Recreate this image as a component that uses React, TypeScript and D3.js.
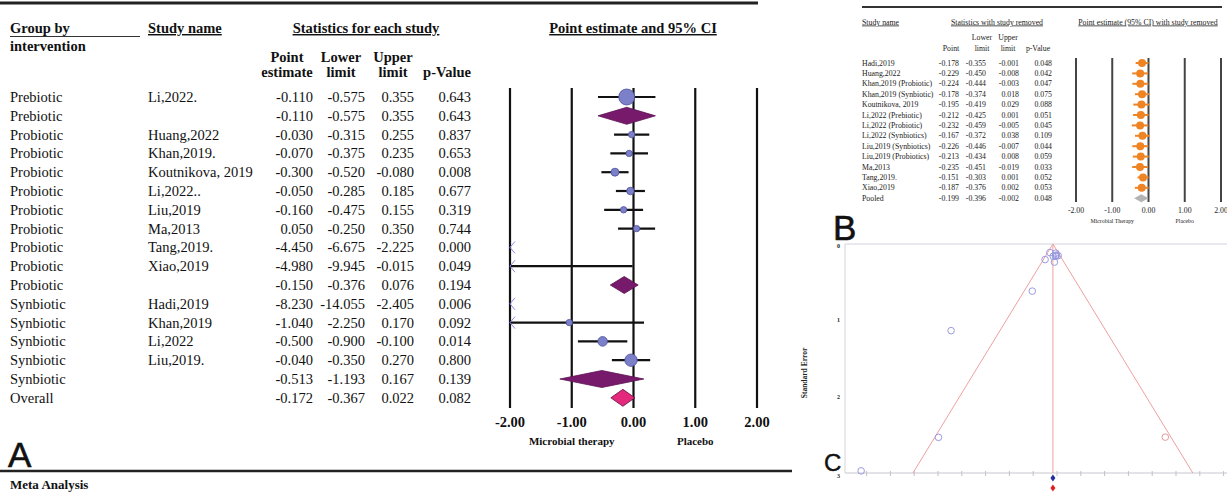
import React from 'react';
import * as d3 from 'd3';

// ---------- Panel A data ----------
const groupsA = ['Prebiotic','Prebiotic','Probiotic','Probiotic','Probiotic','Probiotic','Probiotic','Probiotic','Probiotic','Probiotic','Probiotic','Synbiotic','Synbiotic','Synbiotic','Synbiotic','Synbiotic','Overall'];
const studiesA = ['Li,2022.','','Huang,2022','Khan,2019.','Koutnikova, 2019','Li,2022..','Liu,2019','Ma,2013','Tang,2019.','Xiao,2019','','Hadi,2019','Khan,2019','Li,2022','Liu,2019.','',''];
const rowTypeA = ['study','subtotal','study','study','study','study','study','study','study','study','subtotal','study','study','study','study','subtotal','overall'];
const pointA = [-0.110,-0.110,-0.030,-0.070,-0.300,-0.050,-0.160,0.050,-4.450,-4.980,-0.150,-8.230,-1.040,-0.500,-0.040,-0.513,-0.172];
const lowerA = [-0.575,-0.575,-0.315,-0.375,-0.520,-0.285,-0.475,-0.250,-6.675,-9.945,-0.376,-14.055,-2.250,-0.900,-0.350,-1.193,-0.367];
const upperA = [0.355,0.355,0.255,0.235,-0.080,0.185,0.155,0.350,-2.225,-0.015,0.076,-2.405,0.170,-0.100,0.270,0.167,0.022];
const pValA = [0.643,0.643,0.837,0.653,0.008,0.677,0.319,0.744,0.000,0.049,0.194,0.006,0.092,0.014,0.800,0.139,0.082];
const ticksA = [-2, -1, 0, 1, 2];

// ---------- Panel B data ----------
const studiesB = ['Hadi,2019','Huang,2022','Khan,2019 (Probiotic)','Khan,2019 (Synbiotic)','Koutnikova, 2019','Li,2022 (Prebiotic)','Li,2022 (Probiotic)','Li,2022 (Synbiotics)','Liu,2019 (Synbiotics)','Liu,2019 (Probiotics)','Ma,2013','Tang,2019.','Xiao,2019','Pooled'];
const pointB = [-0.178,-0.229,-0.224,-0.178,-0.195,-0.212,-0.232,-0.167,-0.226,-0.213,-0.235,-0.151,-0.187,-0.199];
const lowerB = [-0.355,-0.450,-0.444,-0.374,-0.419,-0.425,-0.459,-0.372,-0.446,-0.434,-0.451,-0.303,-0.376,-0.396];
const upperB = [-0.001,-0.008,-0.003,0.018,0.029,0.001,-0.005,0.038,-0.007,0.008,-0.019,0.001,0.002,-0.002];
const pValB = [0.048,0.042,0.047,0.075,0.088,0.051,0.045,0.109,0.044,0.059,0.033,0.052,0.053,0.048];

// ---------- Panel C data ----------
const imputedEffects = [4.55];
const imputedSE = [2.53];
const funnelYTicks = [0, 1, 2, 3];
const funnelXTicks = [-8,-7,-6,-5,-4,-3,-2,-1,0,1,2,3,4,5,6,7];
const observedEstimate = -0.172;
const adjustedEstimate = -0.172;

const SERIF = '"Liberation Serif", "Times New Roman", serif';
const SANS = '"Liberation Sans", Arial, sans-serif';
const f3 = (v: number) => v.toFixed(3);

export default function App() {
  // Panel A scales
  const xA = d3.scaleLinear().domain([-2, 2]).range([510, 757]);
  const rowA = (i: number) => 102 + i * 18.8; // baseline
  const cyA = (i: number) => rowA(i) - 5;

  // relative weights within subgroup (inverse variance from CI)
  const seA = lowerA.map((l, i) => (upperA[i] - l) / (2 * 1.96));
  const pct: number[] = pointA.map(() => 0);
  const grpNames = Array.from(new Set(groupsA.filter((g, i) => rowTypeA[i] === 'study')));
  grpNames.forEach(g => {
    const idx = groupsA.map((gg, i) => (gg === g && rowTypeA[i] === 'study' ? i : -1)).filter(i => i >= 0);
    const tot = d3.sum(idx, i => 1 / (seA[i] * seA[i]));
    idx.forEach(i => { pct[i] = (100 * (1 / (seA[i] * seA[i]))) / tot; });
  });
  const rScale = d3.scaleSqrt().domain([0, 100]).range([0, 8]);

  // Panel B scales
  const xB = d3.scaleLinear().domain([-2, 2]).range([1076, 1221]);
  const cyB = (i: number) => 63 + i * 10.4;

  // Panel C scales
  const xC = d3.scaleLinear().domain([-9, 7]).range([842.8, 1223.6]);
  const yC = d3.scaleLinear().domain([0, 3]).range([244, 473]);
  const funnelPts = pointA.map((p, i) => ({ p, se: seA[i], t: rowTypeA[i] })).filter(d => d.t === 'study');

  const colX = { pe: 313, lo: 365, up: 414, pv: 471 };

  return (
    <svg width={1227} height={497} style={{ position: 'absolute', left: 0, top: 0, background: '#fff' }}>
      {/* ================= Panel A ================= */}
      <line x1={0} x2={758} y1={3} y2={3} stroke="#222" strokeWidth={3} />
      <g fontFamily={SERIF} fontSize={14.5} fill="#111">
        <text x={10} y={33} fontWeight="bold">Group by</text>
        <line x1={10} x2={140} y1={36.5} y2={36.5} stroke="#333" strokeWidth={1} />
        <text x={10} y={50.5} fontWeight="bold">intervention</text>
        <text x={148} y={33} fontWeight="bold" textDecoration="underline">Study name</text>
        <text x={366} y={33} fontWeight="bold" textAnchor="middle" textDecoration="underline">Statistics for each study</text>
        <text x={633} y={33} fontWeight="bold" textAnchor="middle" textDecoration="underline">Point estimate and 95% CI</text>
        <text x={287} y={61.5} fontWeight="bold" textAnchor="middle">Point</text>
        <text x={287} y={77} fontWeight="bold" textAnchor="middle">estimate</text>
        <text x={341} y={61.5} fontWeight="bold" textAnchor="middle">Lower</text>
        <text x={341} y={77} fontWeight="bold" textAnchor="middle">limit</text>
        <text x={393} y={61.5} fontWeight="bold" textAnchor="middle">Upper</text>
        <text x={393} y={77} fontWeight="bold" textAnchor="middle">limit</text>
        <text x={447} y={77} fontWeight="bold" textAnchor="middle">p-Value</text>
        {groupsA.map((g, i) => (
          <g key={'ra' + i}>
            <text x={10} y={rowA(i)}>{g}</text>
            <text x={148} y={rowA(i)}>{studiesA[i]}</text>
            <text x={colX.pe} y={rowA(i)} textAnchor="end">{f3(pointA[i])}</text>
            <text x={colX.lo} y={rowA(i)} textAnchor="end">{f3(lowerA[i])}</text>
            <text x={colX.up} y={rowA(i)} textAnchor="end">{f3(upperA[i])}</text>
            <text x={colX.pv} y={rowA(i)} textAnchor="end">{f3(pValA[i])}</text>
          </g>
        ))}
      </g>
      {/* forest A grid */}
      {ticksA.map(t => (
        <g key={'ta' + t}>
          <line x1={xA(t)} x2={xA(t)} y1={88} y2={408} stroke="#111" strokeWidth={2.2} />
          <text x={xA(t)} y={427} textAnchor="middle" fontFamily={SERIF} fontWeight="bold" fontSize={14.5} fill="#111">{t.toFixed(2)}</text>
        </g>
      ))}
      <text x={xA(-1)} y={445} textAnchor="middle" fontFamily={SERIF} fontWeight="bold" fontSize={11} fill="#111">Microbial therapy</text>
      <text x={xA(1)} y={445} textAnchor="middle" fontFamily={SERIF} fontWeight="bold" fontSize={11} fill="#111">Placebo</text>
      {/* forest A marks */}
      {pointA.map((p, i) => {
        const y = cyA(i);
        const type = rowTypeA[i];
        if (type === 'study') {
          const lo = Math.max(lowerA[i], -2);
          const hi = Math.min(upperA[i], 2);
          const inRange = p >= -2 && p <= 2;
          return (
            <g key={'ma' + i}>
              {hi > lo && <line x1={xA(lo)} x2={xA(hi)} y1={y} y2={y} stroke="#111" strokeWidth={2.2} />}
              {lowerA[i] < -2 && (
                <polyline points={`${xA(-2) + 5},${y - 6} ${xA(-2)},${y} ${xA(-2) + 5},${y + 6}`} fill="none" stroke="#8a8ae6" strokeWidth={1} />
              )}
              {inRange && <circle cx={xA(p)} cy={y} r={Math.max(3.2, rScale(pct[i]))} fill="#7c80c9" stroke="#4d519c" strokeWidth={0.8} />}
            </g>
          );
        }
        const h = 8.5;
        const fill = type === 'overall' ? '#e4287c' : '#781a6c';
        const stroke = type === 'overall' ? '#5a1040' : '#5a1052';
        return (
          <polygon key={'ma' + i}
            points={`${xA(lowerA[i])},${y} ${xA(p)},${y - h} ${xA(upperA[i])},${y} ${xA(p)},${y + h}`}
            fill={fill} stroke={stroke} strokeWidth={0.8} />
        );
      })}
      <text x={8} y={467} fontFamily={SANS} fontSize={35} fill="#111" stroke="#111" strokeWidth={0.6}>A</text>
      <line x1={0} x2={792} y1={471} y2={471} stroke="#222" strokeWidth={2.5} />
      <text x={10} y={489} fontFamily={SERIF} fontWeight="bold" fontSize={13} fill="#111">Meta Analysis</text>

      {/* ================= Panel B ================= */}
      <line x1={862} x2={1222} y1={7} y2={7} stroke="#333" strokeWidth={2} />
      <g fontFamily={SERIF} fontSize={7.8} fill="#222">
        <text x={862} y={24.5} textDecoration="underline">Study name</text>
        <text x={997} y={24.5} textAnchor="middle" textDecoration="underline">Statistics with study removed</text>
        <text x={1148} y={24.5} textAnchor="middle" textDecoration="underline">Point estimate (95% CI) with study removed</text>
        <text x={951} y={51} textAnchor="middle">Point</text>
        <text x={982} y={40} textAnchor="middle">Lower</text>
        <text x={982} y={51} textAnchor="middle">limit</text>
        <text x={1008} y={40} textAnchor="middle">Upper</text>
        <text x={1008} y={51} textAnchor="middle">limit</text>
        <text x={1038} y={51} textAnchor="middle">p-Value</text>
        {studiesB.map((s, i) => (
          <g key={'rb' + i}>
            <text x={862} y={cyB(i) + 2.6}>{s}</text>
            <text x={959} y={cyB(i) + 2.6} textAnchor="end">{f3(pointB[i])}</text>
            <text x={986} y={cyB(i) + 2.6} textAnchor="end">{f3(lowerB[i])}</text>
            <text x={1019} y={cyB(i) + 2.6} textAnchor="end">{f3(upperB[i])}</text>
            <text x={1052} y={cyB(i) + 2.6} textAnchor="end">{f3(pValB[i])}</text>
          </g>
        ))}
        {ticksA.map(t => (
          <text key={'tbl' + t} x={xB(t)} y={212.5} textAnchor="middle">{t.toFixed(2)}</text>
        ))}
        <text x={xB(-1)} y={223} textAnchor="middle" fontSize={5.8}>Microbial Therapy</text>
        <text x={xB(1)} y={223} textAnchor="middle" fontSize={5.8}>Placebo</text>
      </g>
      {ticksA.map(t => (
        <line key={'tb' + t} x1={xB(t)} x2={xB(t)} y1={58} y2={202} stroke="#444" strokeWidth={2} />
      ))}
      {pointB.map((p, i) => {
        const y = cyB(i);
        if (i === pointB.length - 1) {
          return (
            <polygon key={'mb' + i}
              points={`${xB(lowerB[i])},${y} ${xB(p)},${y - 4} ${xB(upperB[i])},${y} ${xB(p)},${y + 4}`}
              fill="#b4b4b4" />
          );
        }
        return (
          <g key={'mb' + i}>
            <line x1={xB(lowerB[i])} x2={xB(upperB[i])} y1={y} y2={y} stroke="#ee8424" strokeWidth={2} />
            <circle cx={xB(p)} cy={y} r={4} fill="#ee8424" />
          </g>
        );
      })}
      <text x={833} y={240} fontFamily={SANS} fontSize={35} fill="#111" stroke="#111" strokeWidth={0.6}>B</text>

      {/* ================= Panel C ================= */}
      <line x1={845} x2={1227} y1={244} y2={244} stroke="#d4d4dc" strokeWidth={1} />
      <line x1={845} x2={845} y1={244} y2={473} stroke="#d4d4dc" strokeWidth={1} />
      <line x1={845} x2={1227} y1={473} y2={473} stroke="#c8c8d0" strokeWidth={1} />
      {funnelXTicks.map(t => (
        <line key={'fx' + t} x1={xC(t)} x2={xC(t)} y1={471} y2={476} stroke="#c0c0c8" strokeWidth={1} />
      ))}
      {funnelYTicks.map(t => (
        <text key={'fy' + t} x={840} y={t === 0 ? yC(t) + 4 : t === 3 ? yC(t) + 5 : yC(t) + 2} textAnchor="end" fontFamily={SERIF} fontWeight="bold" fontSize={6} fill="#222">{t}</text>
      ))}
      <text transform="translate(807,373) rotate(-90)" textAnchor="middle" fontFamily={SERIF} fontWeight="bold" fontSize={7.5} fill="#222">Standard Error</text>
      {/* funnel */}
      <line x1={xC(observedEstimate)} x2={xC(observedEstimate)} y1={yC(0)} y2={yC(3)} stroke="#eea0a0" strokeWidth={1} />
      <line x1={xC(observedEstimate)} x2={xC(observedEstimate - 1.96 * 3)} y1={yC(0)} y2={yC(3)} stroke="#eea0a0" strokeWidth={1} />
      <line x1={xC(observedEstimate)} x2={xC(observedEstimate + 1.96 * 3)} y1={yC(0)} y2={yC(3)} stroke="#eea0a0" strokeWidth={1} />
      {funnelPts.map((d, i) => (
        <circle key={'fp' + i} cx={xC(d.p)} cy={yC(d.se)} r={3.3} fill="none" stroke="#9a9ae0" strokeWidth={1} />
      ))}
      {imputedEffects.map((e, i) => (
        <circle key={'fi' + i} cx={xC(e)} cy={yC(imputedSE[i])} r={3.3} fill="none" stroke="#e59a9a" strokeWidth={1} />
      ))}
      <polygon points={`${xC(observedEstimate)},${478 - 3.5} ${xC(observedEstimate) + 2.5},478 ${xC(observedEstimate)},${478 + 3.5} ${xC(observedEstimate) - 2.5},478`} fill="#1f2fa0" />
      <polygon points={`${xC(adjustedEstimate)},${488 - 3.5} ${xC(adjustedEstimate) + 2.5},488 ${xC(adjustedEstimate)},${488 + 3.5} ${xC(adjustedEstimate) - 2.5},488`} fill="#e02020" />
      <text x={824} y={471} fontFamily={SANS} fontSize={24} fill="#111" stroke="#111" strokeWidth={0.4}>C</text>
    </svg>
  );
}
